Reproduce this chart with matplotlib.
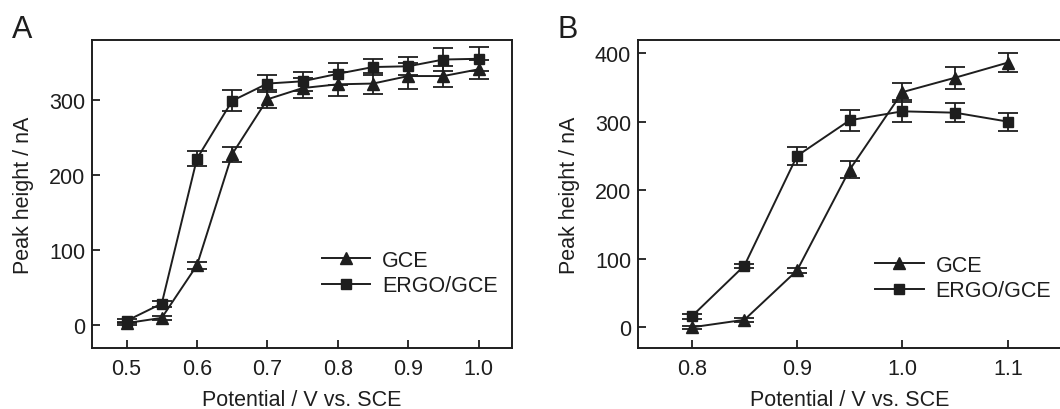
import matplotlib
matplotlib.use("Agg")
import matplotlib.pyplot as plt
from matplotlib.lines import Line2D

plt.rcParams['font.family'] = ['Liberation Sans', 'DejaVu Sans']

# Panel A data
xa = [0.50, 0.55, 0.60, 0.65, 0.70, 0.75, 0.80, 0.85, 0.90, 0.95, 1.00]
gce_a = [3, 10, 80, 228, 301, 316, 321, 322, 332, 332, 341]
gce_a_err = [2, 3, 5, 10, 12, 13, 16, 14, 17, 14, 13]
ergo_a = [6, 29, 222, 299, 322, 325, 335, 344, 345, 354, 355]
ergo_a_err = [3, 4, 10, 14, 11, 13, 15, 11, 12, 15, 16]

# Panel B data
xb = [0.80, 0.85, 0.90, 0.95, 1.00, 1.05, 1.10]
gce_b = [0, 11, 83, 230, 343, 364, 386]
gce_b_err = [2, 3, 4, 12, 14, 16, 14]
ergo_b = [16, 90, 250, 302, 315, 313, 300]
ergo_b_err = [4, 3, 13, 15, 16, 14, 13]

series_labels = ["GCE", "ERGO/GCE"]
xlabel = "Potential / V vs. SCE"
ylabel = "Peak height / nA"

INK = '#1e1e1e'
fig = plt.figure(figsize=(10.6, 4.1), dpi=100)

def draw(ax, x, g, ge, e, ee, xlim, ylim, xticks, yticks, legend_anchor):
    kw = dict(color=INK, lw=1.4, capsize=7, elinewidth=1.3, capthick=1.3)
    ax.errorbar(x, g, yerr=ge, marker='^', ms=8, **kw)
    ax.errorbar(x, e, yerr=ee, marker='s', ms=7, **kw)
    ax.set_xlim(*xlim)
    ax.set_ylim(*ylim)
    ax.set_xticks(xticks)
    ax.set_xticklabels([f"{t:.1f}" for t in xticks])
    ax.set_yticks(yticks)
    ax.tick_params(direction='in', length=6, width=1.3, labelsize=15.5, colors=INK, pad=5)
    ax.tick_params(axis='x', pad=7.5)
    ax.tick_params(top=False, right=False)
    for s in ax.spines.values():
        s.set_linewidth(1.4)
        s.set_color(INK)
    ax.set_xlabel(xlabel, fontsize=15.5, color=INK, labelpad=7)
    ax.set_ylabel(ylabel, fontsize=15.5, color=INK, labelpad=11)
    handles = [Line2D([], [], color=INK, lw=1.4, marker='^', ms=8),
               Line2D([], [], color=INK, lw=1.4, marker='s', ms=7)]
    leg = ax.legend(handles, series_labels, loc='center left', bbox_to_anchor=legend_anchor,
                    frameon=False, fontsize=15.5, handlelength=2.25, handletextpad=0.55,
                    labelspacing=0.22, borderpad=0, borderaxespad=0)
    for t in leg.get_texts():
        t.set_color(INK)

axA = fig.add_axes([0.0868, 0.149, 0.396, 0.751])
draw(axA, xa, gce_a, gce_a_err, ergo_a, ergo_a_err,
     (0.451, 1.047), (-30, 380), [0.5, 0.6, 0.7, 0.8, 0.9, 1.0], [0, 100, 200, 300],
     (0.548, 0.2435))

axB = fig.add_axes([0.6019, 0.149, 0.3995, 0.751])
draw(axB, xb, gce_b, gce_b_err, ergo_b, ergo_b_err,
     (0.749, 1.151), (-30, 419), [0.8, 0.9, 1.0, 1.1], [0, 100, 200, 300, 400],
     (0.560, 0.227))

fig.text(0.0113, 0.907, "A", fontsize=22, color=INK, va='baseline', ha='left')
fig.text(0.5255, 0.907, "B", fontsize=22, color=INK, va='baseline', ha='left')

fig.savefig("out.png", dpi=100)
